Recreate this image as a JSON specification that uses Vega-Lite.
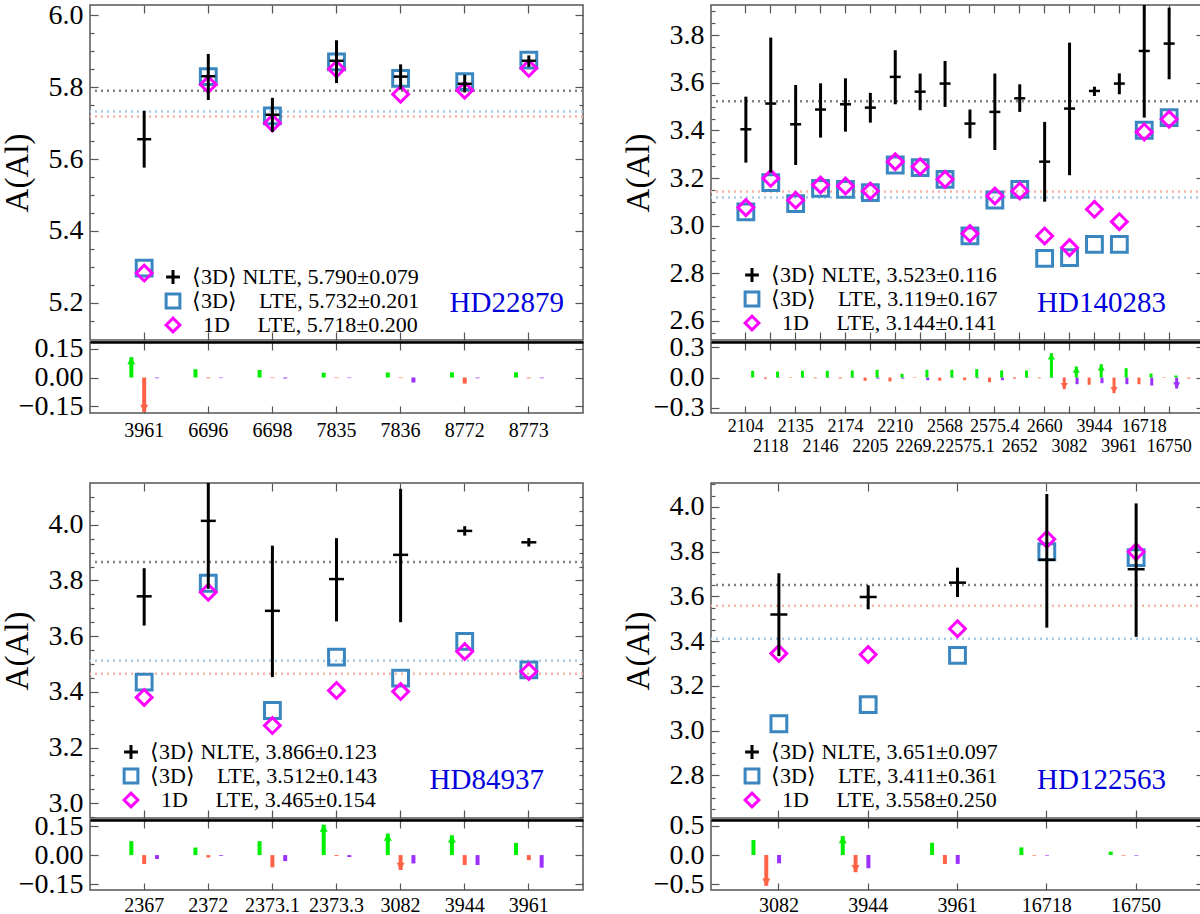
{
  "$schema": "https://vega.github.io/schema/vega-lite/v6.json",
  "padding": {"left": 0, "top": 0, "right": 2, "bottom": 0},
  "config": {
    "font": "Liberation Serif",
    "view": {"stroke": "#555", "strokeWidth": 1.5},
    "axis": {
      "domain": false, "grid": false, "tickColor": "#555", "tickWidth": 1.2,
      "labelFont": "Liberation Serif", "titleFont": "Liberation Serif", "labelColor": "black",
      "titleColor": "black", "titleFontWeight": "normal", "labelFontSize": 28, "titleFontSize": 33,
      "labelOverlap": false, "labelFlush": false
    },
    "legend": {"labelLimit": 500, "title": null, "padding": 0, "labelFont": "Liberation Serif", "labelFontSize": 22, "labelColor": "black", "symbolSize": 190, "symbolStrokeWidth": 3, "rowPadding": -5.5, "labelOffset": 8},
    "title": {"font": "Liberation Serif", "fontWeight": "normal"}
  },
  "datasets": {
    "p1": [
      {"line": "3961", "nlte": 5.655, "lo": 5.576, "hi": 5.734, "lte3d": 5.297, "lte1d": 5.283, "g": 0.106, "r": -0.18, "p": -0.004},
      {"line": "6696", "nlte": 5.830, "lo": 5.764, "hi": 5.892, "lte3d": 5.829, "lte1d": 5.807, "g": 0.043, "r": -0.004, "p": -0.003},
      {"line": "6698", "nlte": 5.723, "lo": 5.675, "hi": 5.770, "lte3d": 5.720, "lte1d": 5.700, "g": 0.039, "r": -0.003, "p": -0.005},
      {"line": "7835", "nlte": 5.873, "lo": 5.811, "hi": 5.930, "lte3d": 5.870, "lte1d": 5.850, "g": 0.025, "r": -0.003, "p": -0.003},
      {"line": "7836", "nlte": 5.829, "lo": 5.793, "hi": 5.863, "lte3d": 5.824, "lte1d": 5.780, "g": 0.026, "r": -0.003, "p": -0.026},
      {"line": "8772", "nlte": 5.809, "lo": 5.785, "hi": 5.834, "lte3d": 5.815, "lte1d": 5.791, "g": 0.027, "r": -0.032, "p": -0.004},
      {"line": "8773", "nlte": 5.873, "lo": 5.856, "hi": 5.888, "lte3d": 5.875, "lte1d": 5.852, "g": 0.027, "r": -0.004, "p": -0.004}
    ],
    "p2": [
      {"line": "2104", "nlte": 3.405, "lo": 3.265, "hi": 3.542, "lte3d": 3.058, "lte1d": 3.076, "g": 0.067, "r": -0.013, "p": -0.005},
      {"line": "2118", "nlte": 3.513, "lo": 3.223, "hi": 3.790, "lte3d": 3.181, "lte1d": 3.199, "g": 0.060, "r": -0.005, "p": -0.005},
      {"line": "2135", "nlte": 3.426, "lo": 3.255, "hi": 3.591, "lte3d": 3.093, "lte1d": 3.107, "g": 0.067, "r": -0.008, "p": -0.005},
      {"line": "2146", "nlte": 3.488, "lo": 3.370, "hi": 3.598, "lte3d": 3.157, "lte1d": 3.171, "g": 0.067, "r": -0.010, "p": -0.005},
      {"line": "2174", "nlte": 3.510, "lo": 3.395, "hi": 3.619, "lte3d": 3.153, "lte1d": 3.167, "g": 0.070, "r": -0.033, "p": -0.012},
      {"line": "2205", "nlte": 3.496, "lo": 3.433, "hi": 3.558, "lte3d": 3.139, "lte1d": 3.146, "g": 0.077, "r": -0.040, "p": -0.012},
      {"line": "2210", "nlte": 3.625, "lo": 3.510, "hi": 3.737, "lte3d": 3.255, "lte1d": 3.269, "g": 0.037, "r": -0.005, "p": -0.027},
      {"line": "2269.2", "nlte": 3.563, "lo": 3.485, "hi": 3.639, "lte3d": 3.244, "lte1d": 3.248, "g": 0.077, "r": -0.033, "p": -0.005},
      {"line": "2568", "nlte": 3.597, "lo": 3.499, "hi": 3.692, "lte3d": 3.195, "lte1d": 3.195, "g": 0.077, "r": -0.027, "p": -0.008},
      {"line": "2575.1", "nlte": 3.429, "lo": 3.367, "hi": 3.488, "lte3d": 2.957, "lte1d": 2.967, "g": 0.083, "r": -0.047, "p": -0.027},
      {"line": "2575.4", "nlte": 3.478, "lo": 3.318, "hi": 3.639, "lte3d": 3.108, "lte1d": 3.125, "g": 0.070, "r": -0.012, "p": -0.005},
      {"line": "2652", "nlte": 3.535, "lo": 3.478, "hi": 3.594, "lte3d": 3.153, "lte1d": 3.146, "g": 0.070, "r": -0.008, "p": -0.004},
      {"line": "2660", "nlte": 3.269, "lo": 3.101, "hi": 3.436, "lte3d": 2.863, "lte1d": 2.957, "g": 0.243, "r": -0.117, "p": -0.067},
      {"line": "3082", "nlte": 3.492, "lo": 3.212, "hi": 3.769, "lte3d": 2.866, "lte1d": 2.908, "g": 0.110, "r": -0.073, "p": -0.057},
      {"line": "3944", "nlte": 3.566, "lo": 3.545, "hi": 3.584, "lte3d": 2.922, "lte1d": 3.069, "g": 0.133, "r": -0.157, "p": -0.067},
      {"line": "3961", "nlte": 3.597, "lo": 3.552, "hi": 3.640, "lte3d": 2.922, "lte1d": 3.017, "g": 0.093, "r": -0.067, "p": -0.080},
      {"line": "16718", "nlte": 3.734, "lo": 3.454, "hi": 3.950, "lte3d": 3.401, "lte1d": 3.394, "g": 0.040, "r": -0.005, "p": -0.110},
      {"line": "16750", "nlte": 3.765, "lo": 3.615, "hi": 3.916, "lte3d": 3.454, "lte1d": 3.447, "g": 0.020, "r": -0.010, "p": -0.004}
    ],
    "p3": [
      {"line": "2367", "nlte": 3.743, "lo": 3.638, "hi": 3.844, "lte3d": 3.435, "lte1d": 3.380, "g": 0.072, "r": -0.046, "p": -0.020},
      {"line": "2372", "nlte": 4.014, "lo": 3.770, "hi": 4.200, "lte3d": 3.790, "lte1d": 3.758, "g": 0.039, "r": -0.012, "p": -0.004},
      {"line": "2373.1", "nlte": 3.691, "lo": 3.453, "hi": 3.925, "lte3d": 3.333, "lte1d": 3.279, "g": 0.072, "r": -0.063, "p": -0.031},
      {"line": "2373.3", "nlte": 3.805, "lo": 3.653, "hi": 3.952, "lte3d": 3.525, "lte1d": 3.405, "g": 0.157, "r": -0.005, "p": -0.010},
      {"line": "3082", "nlte": 3.892, "lo": 3.650, "hi": 4.129, "lte3d": 3.449, "lte1d": 3.401, "g": 0.111, "r": -0.077, "p": -0.043},
      {"line": "3944", "nlte": 3.978, "lo": 3.961, "hi": 3.995, "lte3d": 3.581, "lte1d": 3.545, "g": 0.102, "r": -0.051, "p": -0.051},
      {"line": "3961", "nlte": 3.937, "lo": 3.922, "hi": 3.952, "lte3d": 3.479, "lte1d": 3.473, "g": 0.063, "r": -0.026, "p": -0.065}
    ],
    "p4": [
      {"line": "3082", "nlte": 3.519, "lo": 3.333, "hi": 3.703, "lte3d": 3.031, "lte1d": 3.345, "g": 0.256, "r": -0.528, "p": -0.142},
      {"line": "3944", "nlte": 3.597, "lo": 3.542, "hi": 3.649, "lte3d": 3.116, "lte1d": 3.340, "g": 0.324, "r": -0.295, "p": -0.227},
      {"line": "3961", "nlte": 3.661, "lo": 3.597, "hi": 3.728, "lte3d": 3.336, "lte1d": 3.455, "g": 0.210, "r": -0.153, "p": -0.153},
      {"line": "16718", "nlte": 3.763, "lo": 3.460, "hi": 4.057, "lte3d": 3.799, "lte1d": 3.855, "g": 0.130, "r": -0.010, "p": -0.010},
      {"line": "16750", "nlte": 3.721, "lo": 3.419, "hi": 4.015, "lte3d": 3.773, "lte1d": 3.799, "g": 0.057, "r": -0.010, "p": -0.010}
    ],
    "m1": [{"kind": "avg_nlte", "v": 5.790}, {"kind": "avg_lte3d", "v": 5.732}, {"kind": "avg_lte1d", "v": 5.718}],
    "m2": [{"kind": "avg_nlte", "v": 3.523}, {"kind": "avg_lte3d", "v": 3.119}, {"kind": "avg_lte1d", "v": 3.144}],
    "m3": [{"kind": "avg_nlte", "v": 3.866}, {"kind": "avg_lte3d", "v": 3.512}, {"kind": "avg_lte1d", "v": 3.465}],
    "m4": [{"kind": "avg_nlte", "v": 3.651}, {"kind": "avg_lte3d", "v": 3.411}, {"kind": "avg_lte1d", "v": 3.558}]
  },
  "spacing": 25,
  "resolve": {"scale": {"color": "independent", "shape": "independent", "stroke": "independent", "x": "independent", "y": "independent"}, "legend": {"shape": "independent", "stroke": "independent", "color": "independent"}},
  "vconcat": [
    {
      "spacing": 36,
      "resolve": {"scale": {"color": "independent", "shape": "independent", "stroke": "independent", "x": "independent", "y": "independent"}, "legend": {"shape": "independent", "stroke": "independent", "color": "independent"}},
      "hconcat": [
        {
          "spacing": -11,
          "resolve": {"scale": {"color": "independent", "shape": "independent", "stroke": "independent", "x": "independent", "y": "independent"}, "legend": {"shape": "independent", "stroke": "independent", "color": "independent"}},
          "vconcat": [
            {
              "width": 493, "height": 335,
              "data": {"name": "p1"},
              "title": {"text": "HD22879", "orient": "bottom", "anchor": "end", "frame": "group", "offset": -29, "dx": -19, "baseline": "alphabetic", "color": "#0000dd", "fontSize": 29},
              "resolve": {"axis": {"x": "independent", "y": "independent"}},
              "layer": [
                {
                  "data": {"name": "m1"},
                  "mark": {"type": "rule", "strokeDash": [2, 4], "strokeWidth": 2.5},
                  "encoding": {
                    "y": {"field": "v", "type": "quantitative", "scale": {"domain": [5.097, 6.028]},
                      "axis": {"orient": "left", "values": [5.2, 5.4, 5.6, 5.8, 6.0], "format": ".1f", "tickSize": -8, "labelPadding": 15, "title": "A(Al)", "titlePadding": 14}},
                    "stroke": {"field": "kind", "type": "nominal", "scale": {"domain": ["avg_nlte", "avg_lte3d", "avg_lte1d"], "range": ["#808080", "#a8cae6", "#f6b4a6"]}, "legend": null}
                  }
                },
                {
                  "transform": [{"fold": ["lte3d", "lte1d"], "as": ["model", "v"]}],
                  "mark": {"type": "point", "filled": false, "size": 250, "strokeWidth": 3, "opacity": 1, "clip": true},
                  "encoding": {
                    "x": {"field": "line", "type": "nominal", "scale": {"domain": ["3961", "6696", "6698", "7835", "7836", "8772", "8773"], "paddingInner": 0, "paddingOuter": 0.345},
                      "axis": {"orient": "bottom", "labels": false, "tickSize": -8, "title": null}},
                    "y": {"field": "v", "type": "quantitative", "scale": {"domain": [5.097, 6.028]},
                      "axis": {"orient": "right", "values": [5.2, 5.4, 5.6, 5.8, 6.0], "labels": false, "tickSize": -8, "title": null}},
                    "shape": {"field": "model", "type": "nominal", "scale": {"domain": ["nlte", "lte3d", "lte1d"], "range": ["M-1,0L1,0M0,-1L0,1", "square", "diamond"]},
                      "legend": {"orient": "none", "legendX": 72, "legendY": 261,
                        "labelExpr": "datum.value == 'nlte' ? '⟨3D⟩ NLTE, 5.790±0.079' : datum.value == 'lte3d' ? '⟨3D⟩\u00a0\u00a0\u00a0\u00a0LTE, 5.732±0.201' : '\u200b\u00a0\u00a01D\u00a0\u00a0\u00a0\u00a0\u00a0LTE, 5.718±0.200'"}},
                    "color": {"field": "model", "type": "nominal", "scale": {"domain": ["nlte", "lte3d", "lte1d"], "range": ["black", "#3a86c0", "#ff00ff"]},
                      "legend": {"orient": "none", "legendX": 72, "legendY": 261,
                        "labelExpr": "datum.value == 'nlte' ? '⟨3D⟩ NLTE, 5.790±0.079' : datum.value == 'lte3d' ? '⟨3D⟩\u00a0\u00a0\u00a0\u00a0LTE, 5.732±0.201' : '\u200b\u00a0\u00a01D\u00a0\u00a0\u00a0\u00a0\u00a0LTE, 5.718±0.200'"}}
                  }
                },
                {
                  "mark": {"type": "rule", "strokeWidth": 3, "color": "black", "clip": true},
                  "encoding": {
                    "x": {"field": "line", "type": "nominal", "scale": {"domain": ["3961", "6696", "6698", "7835", "7836", "8772", "8773"], "paddingInner": 0, "paddingOuter": 0.345},
                      "axis": {"orient": "top", "labels": false, "tickSize": -8, "title": null}},
                    "y": {"field": "lo", "type": "quantitative", "scale": {"domain": [5.097, 6.028]},
                      "axis": {"orient": "left", "values": [5.15, 5.25, 5.3, 5.35, 5.45, 5.5, 5.55, 5.65, 5.7, 5.75, 5.85, 5.9, 5.95], "labels": false, "tickSize": -4, "title": null}},
                    "y2": {"field": "hi"}
                  }
                },
                {
                  "mark": {"type": "tick", "color": "black", "size": 14, "thickness": 2.5, "opacity": 1, "clip": true},
                  "encoding": {
                    "x": {"field": "line", "type": "nominal", "scale": {"domain": ["3961", "6696", "6698", "7835", "7836", "8772", "8773"], "paddingInner": 0, "paddingOuter": 0.345}, "axis": null},
                    "y": {"field": "nlte", "type": "quantitative", "scale": {"domain": [5.097, 6.028]},
                      "axis": {"orient": "right", "values": [5.15, 5.25, 5.3, 5.35, 5.45, 5.5, 5.55, 5.65, 5.7, 5.75, 5.85, 5.9, 5.95], "labels": false, "tickSize": -4, "title": null}}
                  }
                }
              ]
            },
            {
              "width": 493, "height": 71,
              "data": {"name": "p1"},
              "transform": [{"fold": ["g", "r", "p"], "as": ["comp", "dv"]}],
              "resolve": {"axis": {"x": "independent", "y": "independent"}},
              "layer": [
                {
                  "mark": {"type": "bar", "width": 4, "clip": true},
                  "encoding": {
                    "x": {"field": "line", "type": "nominal", "scale": {"domain": ["3961", "6696", "6698", "7835", "7836", "8772", "8773"], "paddingInner": 0, "paddingOuter": 0.345},
                      "axis": {"orient": "bottom", "tickSize": -7, "labelPadding": 14, "labelFontSize": 20, "labelAngle": 0, "title": null}},
                    "xOffset": {"field": "comp", "type": "nominal", "scale": {"domain": ["g", "r", "p"], "paddingInner": 0, "paddingOuter": 2.5}},
                    "y": {"field": "dv", "type": "quantitative", "scale": {"domain": [-0.185, 0.185]},
                      "axis": {"orient": "left", "values": [-0.15, 0, 0.15], "format": ".2f", "tickSize": -8, "labelPadding": 15, "title": null}},
                    "y2": {"datum": 0},
                    "color": {"field": "comp", "type": "nominal", "scale": {"domain": ["g", "r", "p"], "range": ["#00ee00", "#ff6347", "#9b30ff"]}, "legend": null}
                  }
                },
                {
                  "transform": [{"filter": "abs(datum.dv) >= 0.075"}],
                  "mark": {"type": "point", "filled": true, "size": 64, "strokeWidth": 0, "opacity": 1, "clip": true},
                  "encoding": {
                    "x": {"field": "line", "type": "nominal", "scale": {"domain": ["3961", "6696", "6698", "7835", "7836", "8772", "8773"], "paddingInner": 0, "paddingOuter": 0.345},
                      "axis": {"orient": "top", "labels": false, "tickSize": -8, "domain": true, "domainColor": "black", "domainWidth": 2.5, "title": null}},
                    "xOffset": {"field": "comp", "type": "nominal", "scale": {"domain": ["g", "r", "p"], "paddingInner": 0, "paddingOuter": 2.5}},
                    "y": {"field": "dv", "type": "quantitative", "scale": {"domain": [-0.185, 0.185]},
                      "axis": {"orient": "right", "values": [-0.15, 0, 0.15], "labels": false, "tickSize": -8, "title": null}},
                    "shape": {"condition": {"test": "datum.dv > 0", "value": "M0,0L-1,1.8L1,1.8Z"}, "value": "M0,0L-1,-1.8L1,-1.8Z"},
                    "color": {"field": "comp", "type": "nominal", "scale": {"domain": ["g", "r", "p"], "range": ["#00ee00", "#ff6347", "#9b30ff"]}, "legend": null}
                  }
                }
              ]
            }
          ]
        },
        {
          "spacing": -11,
          "resolve": {"scale": {"color": "independent", "shape": "independent", "stroke": "independent", "x": "independent", "y": "independent"}, "legend": {"shape": "independent", "stroke": "independent", "color": "independent"}},
          "vconcat": [
            {
              "width": 493, "height": 335,
              "data": {"name": "p2"},
              "title": {"text": "HD140283", "orient": "bottom", "anchor": "end", "frame": "group", "offset": -29, "dx": -38, "baseline": "alphabetic", "color": "#0000dd", "fontSize": 29},
              "resolve": {"axis": {"x": "independent", "y": "independent"}},
              "layer": [
                {
                  "data": {"name": "m2"},
                  "mark": {"type": "rule", "strokeDash": [2, 4], "strokeWidth": 2.5},
                  "encoding": {
                    "y": {"field": "v", "type": "quantitative", "scale": {"domain": [2.52, 3.927]},
                      "axis": {"orient": "left", "values": [2.6, 2.8, 3.0, 3.2, 3.4, 3.6, 3.8], "format": ".1f", "tickSize": -8, "labelPadding": 15, "title": "A(Al)", "titlePadding": 14}},
                    "stroke": {"field": "kind", "type": "nominal", "scale": {"domain": ["avg_nlte", "avg_lte3d", "avg_lte1d"], "range": ["#808080", "#a8cae6", "#f6b4a6"]}, "legend": null}
                  }
                },
                {
                  "transform": [{"fold": ["lte3d", "lte1d"], "as": ["model", "v"]}],
                  "mark": {"type": "point", "filled": false, "size": 250, "strokeWidth": 3, "opacity": 1, "clip": true},
                  "encoding": {
                    "x": {"field": "line", "type": "nominal", "scale": {"domain": ["2104", "2118", "2135", "2146", "2174", "2205", "2210", "2269.2", "2568", "2575.1", "2575.4", "2652", "2660", "3082", "3944", "3961", "16718", "16750"], "paddingInner": 0, "paddingOuter": 0.9},
                      "axis": {"orient": "bottom", "labels": false, "tickSize": -8, "title": null}},
                    "y": {"field": "v", "type": "quantitative", "scale": {"domain": [2.52, 3.927]},
                      "axis": {"orient": "right", "values": [2.6, 2.8, 3.0, 3.2, 3.4, 3.6, 3.8], "labels": false, "tickSize": -8, "title": null}},
                    "shape": {"field": "model", "type": "nominal", "scale": {"domain": ["nlte", "lte3d", "lte1d"], "range": ["M-1,0L1,0M0,-1L0,1", "square", "diamond"]},
                      "legend": {"orient": "none", "legendX": 30, "legendY": 259,
                        "labelExpr": "datum.value == 'nlte' ? '⟨3D⟩ NLTE, 3.523±0.116' : datum.value == 'lte3d' ? '⟨3D⟩\u00a0\u00a0\u00a0\u00a0LTE, 3.119±0.167' : '\u200b\u00a0\u00a01D\u00a0\u00a0\u00a0\u00a0\u00a0LTE, 3.144±0.141'"}},
                    "color": {"field": "model", "type": "nominal", "scale": {"domain": ["nlte", "lte3d", "lte1d"], "range": ["black", "#3a86c0", "#ff00ff"]},
                      "legend": {"orient": "none", "legendX": 30, "legendY": 259,
                        "labelExpr": "datum.value == 'nlte' ? '⟨3D⟩ NLTE, 3.523±0.116' : datum.value == 'lte3d' ? '⟨3D⟩\u00a0\u00a0\u00a0\u00a0LTE, 3.119±0.167' : '\u200b\u00a0\u00a01D\u00a0\u00a0\u00a0\u00a0\u00a0LTE, 3.144±0.141'"}}
                  }
                },
                {
                  "mark": {"type": "rule", "strokeWidth": 3, "color": "black", "clip": true},
                  "encoding": {
                    "x": {"field": "line", "type": "nominal", "scale": {"domain": ["2104", "2118", "2135", "2146", "2174", "2205", "2210", "2269.2", "2568", "2575.1", "2575.4", "2652", "2660", "3082", "3944", "3961", "16718", "16750"], "paddingInner": 0, "paddingOuter": 0.9},
                      "axis": {"orient": "top", "labels": false, "tickSize": -8, "title": null}},
                    "y": {"field": "lo", "type": "quantitative", "scale": {"domain": [2.52, 3.927]},
                      "axis": {"orient": "left", "values": [2.55, 2.65, 2.7, 2.75, 2.85, 2.9, 2.95, 3.05, 3.1, 3.15, 3.25, 3.3, 3.35, 3.45, 3.5, 3.55, 3.65, 3.7, 3.75, 3.85, 3.9], "labels": false, "tickSize": -4, "title": null}},
                    "y2": {"field": "hi"}
                  }
                },
                {
                  "mark": {"type": "tick", "color": "black", "size": 11, "thickness": 2.5, "opacity": 1, "clip": true},
                  "encoding": {
                    "x": {"field": "line", "type": "nominal", "scale": {"domain": ["2104", "2118", "2135", "2146", "2174", "2205", "2210", "2269.2", "2568", "2575.1", "2575.4", "2652", "2660", "3082", "3944", "3961", "16718", "16750"], "paddingInner": 0, "paddingOuter": 0.9}, "axis": null},
                    "y": {"field": "nlte", "type": "quantitative", "scale": {"domain": [2.52, 3.927]},
                      "axis": {"orient": "right", "values": [2.55, 2.65, 2.7, 2.75, 2.85, 2.9, 2.95, 3.05, 3.1, 3.15, 3.25, 3.3, 3.35, 3.45, 3.5, 3.55, 3.65, 3.7, 3.75, 3.85, 3.9], "labels": false, "tickSize": -4, "title": null}}
                  }
                }
              ]
            },
            {
              "width": 493, "height": 71,
              "data": {"name": "p2"},
              "transform": [{"fold": ["g", "r", "p"], "as": ["comp", "dv"]}],
              "resolve": {"axis": {"x": "independent", "y": "independent"}},
              "layer": [
                {
                  "mark": {"type": "bar", "width": 3, "clip": true},
                  "encoding": {
                    "x": {"field": "line", "type": "nominal", "scale": {"domain": ["2104", "2118", "2135", "2146", "2174", "2205", "2210", "2269.2", "2568", "2575.1", "2575.4", "2652", "2660", "3082", "3944", "3961", "16718", "16750"], "paddingInner": 0, "paddingOuter": 0.9},
                      "axis": {"orient": "bottom", "tickSize": -7, "labelFontSize": 18, "labelAngle": 0, "title": null,
                        "labelPadding": {"condition": {"test": "indexof(['2118','2146','2205','2269.2','2575.1','2652','3082','3961','16750'], datum.value) >= 0", "value": 31}, "value": 11}}},
                    "xOffset": {"field": "comp", "type": "nominal", "scale": {"domain": ["g", "r", "p"], "paddingInner": 0, "paddingOuter": 3.08}},
                    "y": {"field": "dv", "type": "quantitative", "scale": {"domain": [-0.355, 0.355]},
                      "axis": {"orient": "left", "values": [-0.3, 0, 0.3], "format": ".1f", "tickSize": -8, "labelPadding": 15, "title": null}},
                    "y2": {"datum": 0},
                    "color": {"field": "comp", "type": "nominal", "scale": {"domain": ["g", "r", "p"], "range": ["#00ee00", "#ff6347", "#9b30ff"]}, "legend": null}
                  }
                },
                {
                  "transform": [{"filter": "abs(datum.dv) >= 0.1"}],
                  "mark": {"type": "point", "filled": true, "size": 49, "strokeWidth": 0, "opacity": 1, "clip": true},
                  "encoding": {
                    "x": {"field": "line", "type": "nominal", "scale": {"domain": ["2104", "2118", "2135", "2146", "2174", "2205", "2210", "2269.2", "2568", "2575.1", "2575.4", "2652", "2660", "3082", "3944", "3961", "16718", "16750"], "paddingInner": 0, "paddingOuter": 0.9},
                      "axis": {"orient": "top", "labels": false, "tickSize": -8, "domain": true, "domainColor": "black", "domainWidth": 2.5, "title": null}},
                    "xOffset": {"field": "comp", "type": "nominal", "scale": {"domain": ["g", "r", "p"], "paddingInner": 0, "paddingOuter": 3.08}},
                    "y": {"field": "dv", "type": "quantitative", "scale": {"domain": [-0.355, 0.355]},
                      "axis": {"orient": "right", "values": [-0.3, 0, 0.3], "labels": false, "tickSize": -8, "title": null}},
                    "shape": {"condition": {"test": "datum.dv > 0", "value": "M0,0L-1,1.8L1,1.8Z"}, "value": "M0,0L-1,-1.8L1,-1.8Z"},
                    "color": {"field": "comp", "type": "nominal", "scale": {"domain": ["g", "r", "p"], "range": ["#00ee00", "#ff6347", "#9b30ff"]}, "legend": null}
                  }
                }
              ]
            }
          ]
        }
      ]
    },
    {
      "spacing": 36,
      "resolve": {"scale": {"color": "independent", "shape": "independent", "stroke": "independent", "x": "independent", "y": "independent"}, "legend": {"shape": "independent", "stroke": "independent", "color": "independent"}},
      "hconcat": [
        {
          "spacing": -11,
          "resolve": {"scale": {"color": "independent", "shape": "independent", "stroke": "independent", "x": "independent", "y": "independent"}, "legend": {"shape": "independent", "stroke": "independent", "color": "independent"}},
          "vconcat": [
            {
              "width": 493, "height": 335,
              "data": {"name": "p3"},
              "title": {"text": "HD84937", "orient": "bottom", "anchor": "end", "frame": "group", "offset": -30, "dx": -39, "baseline": "alphabetic", "color": "#0000dd", "fontSize": 29},
              "resolve": {"axis": {"x": "independent", "y": "independent"}},
              "layer": [
                {
                  "data": {"name": "m3"},
                  "mark": {"type": "rule", "strokeDash": [2, 4], "strokeWidth": 2.5},
                  "encoding": {
                    "y": {"field": "v", "type": "quantitative", "scale": {"domain": [2.947, 4.15]},
                      "axis": {"orient": "left", "values": [3.0, 3.2, 3.4, 3.6, 3.8, 4.0], "format": ".1f", "tickSize": -8, "labelPadding": 15, "title": "A(Al)", "titlePadding": 14}},
                    "stroke": {"field": "kind", "type": "nominal", "scale": {"domain": ["avg_nlte", "avg_lte3d", "avg_lte1d"], "range": ["#808080", "#a8cae6", "#f6b4a6"]}, "legend": null}
                  }
                },
                {
                  "transform": [{"fold": ["lte3d", "lte1d"], "as": ["model", "v"]}],
                  "mark": {"type": "point", "filled": false, "size": 250, "strokeWidth": 3, "opacity": 1, "clip": true},
                  "encoding": {
                    "x": {"field": "line", "type": "nominal", "scale": {"domain": ["2367", "2372", "2373.1", "2373.3", "3082", "3944", "3961"], "paddingInner": 0, "paddingOuter": 0.345},
                      "axis": {"orient": "bottom", "labels": false, "tickSize": -8, "title": null}},
                    "y": {"field": "v", "type": "quantitative", "scale": {"domain": [2.947, 4.15]},
                      "axis": {"orient": "right", "values": [3.0, 3.2, 3.4, 3.6, 3.8, 4.0], "labels": false, "tickSize": -8, "title": null}},
                    "shape": {"field": "model", "type": "nominal", "scale": {"domain": ["nlte", "lte3d", "lte1d"], "range": ["M-1,0L1,0M0,-1L0,1", "square", "diamond"]},
                      "legend": {"orient": "none", "legendX": 30, "legendY": 258,
                        "labelExpr": "datum.value == 'nlte' ? '⟨3D⟩ NLTE, 3.866±0.123' : datum.value == 'lte3d' ? '⟨3D⟩\u00a0\u00a0\u00a0\u00a0LTE, 3.512±0.143' : '\u200b\u00a0\u00a01D\u00a0\u00a0\u00a0\u00a0\u00a0LTE, 3.465±0.154'"}},
                    "color": {"field": "model", "type": "nominal", "scale": {"domain": ["nlte", "lte3d", "lte1d"], "range": ["black", "#3a86c0", "#ff00ff"]},
                      "legend": {"orient": "none", "legendX": 30, "legendY": 258,
                        "labelExpr": "datum.value == 'nlte' ? '⟨3D⟩ NLTE, 3.866±0.123' : datum.value == 'lte3d' ? '⟨3D⟩\u00a0\u00a0\u00a0\u00a0LTE, 3.512±0.143' : '\u200b\u00a0\u00a01D\u00a0\u00a0\u00a0\u00a0\u00a0LTE, 3.465±0.154'"}}
                  }
                },
                {
                  "mark": {"type": "rule", "strokeWidth": 3, "color": "black", "clip": true},
                  "encoding": {
                    "x": {"field": "line", "type": "nominal", "scale": {"domain": ["2367", "2372", "2373.1", "2373.3", "3082", "3944", "3961"], "paddingInner": 0, "paddingOuter": 0.345},
                      "axis": {"orient": "top", "labels": false, "tickSize": -8, "title": null}},
                    "y": {"field": "lo", "type": "quantitative", "scale": {"domain": [2.947, 4.15]},
                      "axis": {"orient": "left", "values": [2.95, 3.05, 3.1, 3.15, 3.25, 3.3, 3.35, 3.45, 3.5, 3.55, 3.65, 3.7, 3.75, 3.85, 3.9, 3.95, 4.05, 4.1], "labels": false, "tickSize": -4, "title": null}},
                    "y2": {"field": "hi"}
                  }
                },
                {
                  "mark": {"type": "tick", "color": "black", "size": 15, "thickness": 2.5, "opacity": 1, "clip": true},
                  "encoding": {
                    "x": {"field": "line", "type": "nominal", "scale": {"domain": ["2367", "2372", "2373.1", "2373.3", "3082", "3944", "3961"], "paddingInner": 0, "paddingOuter": 0.345}, "axis": null},
                    "y": {"field": "nlte", "type": "quantitative", "scale": {"domain": [2.947, 4.15]},
                      "axis": {"orient": "right", "values": [2.95, 3.05, 3.1, 3.15, 3.25, 3.3, 3.35, 3.45, 3.5, 3.55, 3.65, 3.7, 3.75, 3.85, 3.9, 3.95, 4.05, 4.1], "labels": false, "tickSize": -4, "title": null}}
                  }
                }
              ]
            },
            {
              "width": 493, "height": 70,
              "data": {"name": "p3"},
              "transform": [{"fold": ["g", "r", "p"], "as": ["comp", "dv"]}],
              "resolve": {"axis": {"x": "independent", "y": "independent"}},
              "layer": [
                {
                  "mark": {"type": "bar", "width": 4, "clip": true},
                  "encoding": {
                    "x": {"field": "line", "type": "nominal", "scale": {"domain": ["2367", "2372", "2373.1", "2373.3", "3082", "3944", "3961"], "paddingInner": 0, "paddingOuter": 0.345},
                      "axis": {"orient": "bottom", "tickSize": -7, "labelPadding": 12, "labelFontSize": 20, "labelAngle": 0, "title": null}},
                    "xOffset": {"field": "comp", "type": "nominal", "scale": {"domain": ["g", "r", "p"], "paddingInner": 0, "paddingOuter": 2.5}},
                    "y": {"field": "dv", "type": "quantitative", "scale": {"domain": [-0.18, 0.181]},
                      "axis": {"orient": "left", "values": [-0.15, 0, 0.15], "format": ".2f", "tickSize": -8, "labelPadding": 15, "title": null}},
                    "y2": {"datum": 0},
                    "color": {"field": "comp", "type": "nominal", "scale": {"domain": ["g", "r", "p"], "range": ["#00ee00", "#ff6347", "#9b30ff"]}, "legend": null}
                  }
                },
                {
                  "transform": [{"filter": "abs(datum.dv) >= 0.075"}],
                  "mark": {"type": "point", "filled": true, "size": 64, "strokeWidth": 0, "opacity": 1, "clip": true},
                  "encoding": {
                    "x": {"field": "line", "type": "nominal", "scale": {"domain": ["2367", "2372", "2373.1", "2373.3", "3082", "3944", "3961"], "paddingInner": 0, "paddingOuter": 0.345},
                      "axis": {"orient": "top", "labels": false, "tickSize": -8, "domain": true, "domainColor": "black", "domainWidth": 2.5, "title": null}},
                    "xOffset": {"field": "comp", "type": "nominal", "scale": {"domain": ["g", "r", "p"], "paddingInner": 0, "paddingOuter": 2.5}},
                    "y": {"field": "dv", "type": "quantitative", "scale": {"domain": [-0.18, 0.181]},
                      "axis": {"orient": "right", "values": [-0.15, 0, 0.15], "labels": false, "tickSize": -8, "title": null}},
                    "shape": {"condition": {"test": "datum.dv > 0", "value": "M0,0L-1,1.8L1,1.8Z"}, "value": "M0,0L-1,-1.8L1,-1.8Z"},
                    "color": {"field": "comp", "type": "nominal", "scale": {"domain": ["g", "r", "p"], "range": ["#00ee00", "#ff6347", "#9b30ff"]}, "legend": null}
                  }
                }
              ]
            }
          ]
        },
        {
          "spacing": -11,
          "resolve": {"scale": {"color": "independent", "shape": "independent", "stroke": "independent", "x": "independent", "y": "independent"}, "legend": {"shape": "independent", "stroke": "independent", "color": "independent"}},
          "vconcat": [
            {
              "width": 493, "height": 335,
              "data": {"name": "p4"},
              "title": {"text": "HD122563", "orient": "bottom", "anchor": "end", "frame": "group", "offset": -30, "dx": -38, "baseline": "alphabetic", "color": "#0000dd", "fontSize": 29},
              "resolve": {"axis": {"x": "independent", "y": "independent"}},
              "layer": [
                {
                  "data": {"name": "m4"},
                  "mark": {"type": "rule", "strokeDash": [2, 4], "strokeWidth": 2.5},
                  "encoding": {
                    "y": {"field": "v", "type": "quantitative", "scale": {"domain": [2.61, 4.106]},
                      "axis": {"orient": "left", "values": [2.8, 3.0, 3.2, 3.4, 3.6, 3.8, 4.0], "format": ".1f", "tickSize": -8, "labelPadding": 15, "title": "A(Al)", "titlePadding": 14}},
                    "stroke": {"field": "kind", "type": "nominal", "scale": {"domain": ["avg_nlte", "avg_lte3d", "avg_lte1d"], "range": ["#808080", "#a8cae6", "#f6b4a6"]}, "legend": null}
                  }
                },
                {
                  "transform": [{"fold": ["lte3d", "lte1d"], "as": ["model", "v"]}],
                  "mark": {"type": "point", "filled": false, "size": 250, "strokeWidth": 3, "opacity": 1, "clip": true},
                  "encoding": {
                    "x": {"field": "line", "type": "nominal", "scale": {"domain": ["3082", "3944", "3961", "16718", "16750"], "paddingInner": 0, "paddingOuter": 0.26},
                      "axis": {"orient": "bottom", "labels": false, "tickSize": -8, "title": null}},
                    "y": {"field": "v", "type": "quantitative", "scale": {"domain": [2.61, 4.106]},
                      "axis": {"orient": "right", "values": [2.8, 3.0, 3.2, 3.4, 3.6, 3.8, 4.0], "labels": false, "tickSize": -8, "title": null}},
                    "shape": {"field": "model", "type": "nominal", "scale": {"domain": ["nlte", "lte3d", "lte1d"], "range": ["M-1,0L1,0M0,-1L0,1", "square", "diamond"]},
                      "legend": {"orient": "none", "legendX": 30, "legendY": 258,
                        "labelExpr": "datum.value == 'nlte' ? '⟨3D⟩ NLTE, 3.651±0.097' : datum.value == 'lte3d' ? '⟨3D⟩\u00a0\u00a0\u00a0\u00a0LTE, 3.411±0.361' : '\u200b\u00a0\u00a01D\u00a0\u00a0\u00a0\u00a0\u00a0LTE, 3.558±0.250'"}},
                    "color": {"field": "model", "type": "nominal", "scale": {"domain": ["nlte", "lte3d", "lte1d"], "range": ["black", "#3a86c0", "#ff00ff"]},
                      "legend": {"orient": "none", "legendX": 30, "legendY": 258,
                        "labelExpr": "datum.value == 'nlte' ? '⟨3D⟩ NLTE, 3.651±0.097' : datum.value == 'lte3d' ? '⟨3D⟩\u00a0\u00a0\u00a0\u00a0LTE, 3.411±0.361' : '\u200b\u00a0\u00a01D\u00a0\u00a0\u00a0\u00a0\u00a0LTE, 3.558±0.250'"}}
                  }
                },
                {
                  "mark": {"type": "rule", "strokeWidth": 3, "color": "black", "clip": true},
                  "encoding": {
                    "x": {"field": "line", "type": "nominal", "scale": {"domain": ["3082", "3944", "3961", "16718", "16750"], "paddingInner": 0, "paddingOuter": 0.26},
                      "axis": {"orient": "top", "labels": false, "tickSize": -8, "title": null}},
                    "y": {"field": "lo", "type": "quantitative", "scale": {"domain": [2.61, 4.106]},
                      "axis": {"orient": "left", "values": [2.65, 2.7, 2.75, 2.85, 2.9, 2.95, 3.05, 3.1, 3.15, 3.25, 3.3, 3.35, 3.45, 3.5, 3.55, 3.65, 3.7, 3.75, 3.85, 3.9, 3.95, 4.05, 4.1], "labels": false, "tickSize": -4, "title": null}},
                    "y2": {"field": "hi"}
                  }
                },
                {
                  "mark": {"type": "tick", "color": "black", "size": 17, "thickness": 2.5, "opacity": 1, "clip": true},
                  "encoding": {
                    "x": {"field": "line", "type": "nominal", "scale": {"domain": ["3082", "3944", "3961", "16718", "16750"], "paddingInner": 0, "paddingOuter": 0.26}, "axis": null},
                    "y": {"field": "nlte", "type": "quantitative", "scale": {"domain": [2.61, 4.106]},
                      "axis": {"orient": "right", "values": [2.65, 2.7, 2.75, 2.85, 2.9, 2.95, 3.05, 3.1, 3.15, 3.25, 3.3, 3.35, 3.45, 3.5, 3.55, 3.65, 3.7, 3.75, 3.85, 3.9, 3.95, 4.05, 4.1], "labels": false, "tickSize": -4, "title": null}}
                  }
                }
              ]
            },
            {
              "width": 493, "height": 70,
              "data": {"name": "p4"},
              "transform": [{"fold": ["g", "r", "p"], "as": ["comp", "dv"]}],
              "resolve": {"axis": {"x": "independent", "y": "independent"}},
              "layer": [
                {
                  "mark": {"type": "bar", "width": 4, "clip": true},
                  "encoding": {
                    "x": {"field": "line", "type": "nominal", "scale": {"domain": ["3082", "3944", "3961", "16718", "16750"], "paddingInner": 0, "paddingOuter": 0.26},
                      "axis": {"orient": "bottom", "tickSize": -7, "labelPadding": 12, "labelFontSize": 20, "labelAngle": 0, "title": null}},
                    "xOffset": {"field": "comp", "type": "nominal", "scale": {"domain": ["g", "r", "p"], "paddingInner": 0, "paddingOuter": 2.67}},
                    "y": {"field": "dv", "type": "quantitative", "scale": {"domain": [-0.6, 0.6]},
                      "axis": {"orient": "left", "values": [-0.5, 0, 0.5], "format": ".1f", "tickSize": -8, "labelPadding": 15, "title": null}},
                    "y2": {"datum": 0},
                    "color": {"field": "comp", "type": "nominal", "scale": {"domain": ["g", "r", "p"], "range": ["#00ee00", "#ff6347", "#9b30ff"]}, "legend": null}
                  }
                },
                {
                  "transform": [{"filter": "abs(datum.dv) >= 0.27"}],
                  "mark": {"type": "point", "filled": true, "size": 64, "strokeWidth": 0, "opacity": 1, "clip": true},
                  "encoding": {
                    "x": {"field": "line", "type": "nominal", "scale": {"domain": ["3082", "3944", "3961", "16718", "16750"], "paddingInner": 0, "paddingOuter": 0.26},
                      "axis": {"orient": "top", "labels": false, "tickSize": -8, "domain": true, "domainColor": "black", "domainWidth": 2.5, "title": null}},
                    "xOffset": {"field": "comp", "type": "nominal", "scale": {"domain": ["g", "r", "p"], "paddingInner": 0, "paddingOuter": 2.67}},
                    "y": {"field": "dv", "type": "quantitative", "scale": {"domain": [-0.6, 0.6]},
                      "axis": {"orient": "right", "values": [-0.5, 0, 0.5], "labels": false, "tickSize": -8, "title": null}},
                    "shape": {"condition": {"test": "datum.dv > 0", "value": "M0,0L-1,1.8L1,1.8Z"}, "value": "M0,0L-1,-1.8L1,-1.8Z"},
                    "color": {"field": "comp", "type": "nominal", "scale": {"domain": ["g", "r", "p"], "range": ["#00ee00", "#ff6347", "#9b30ff"]}, "legend": null}
                  }
                }
              ]
            }
          ]
        }
      ]
    }
  ]
}
